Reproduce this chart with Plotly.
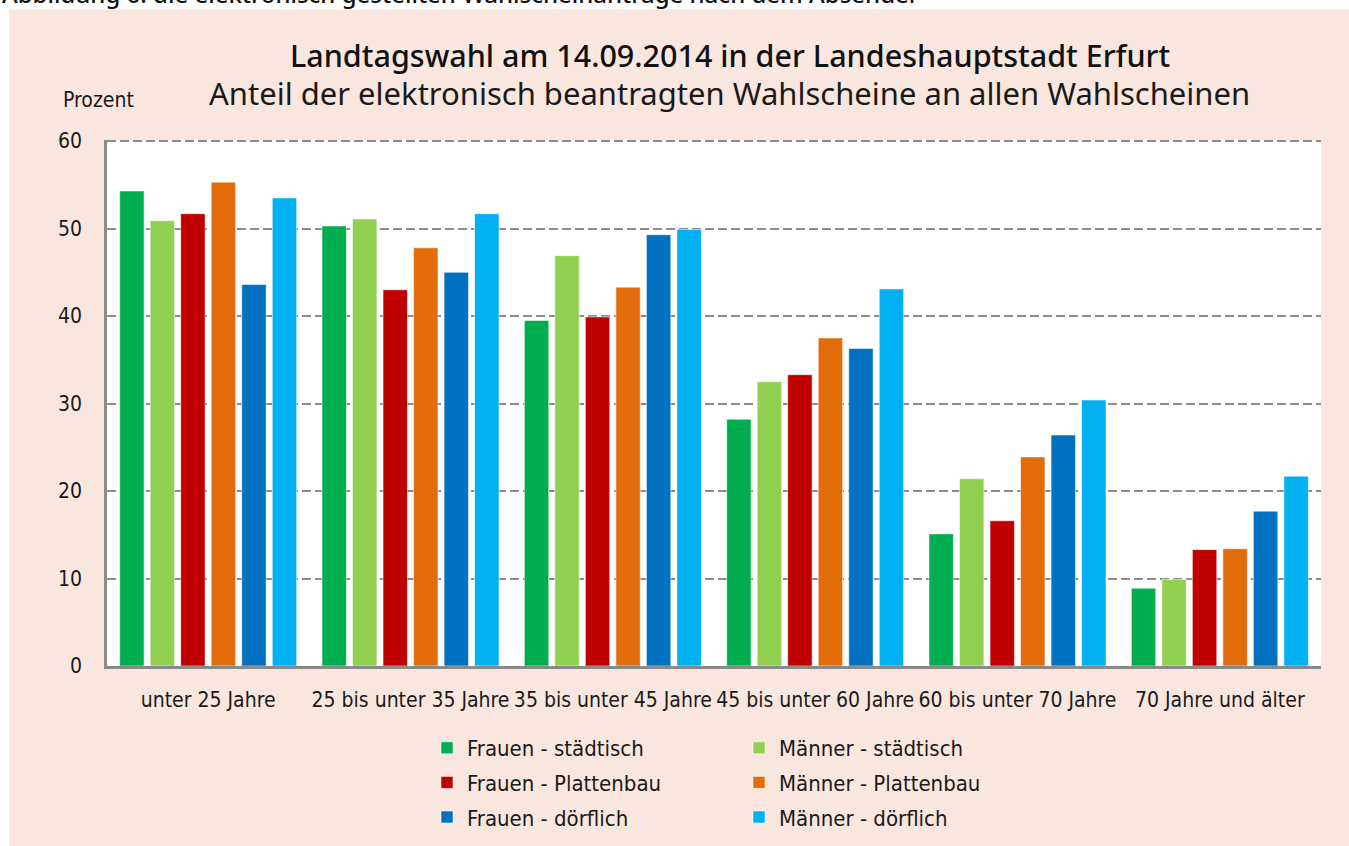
import plotly.graph_objects as go

categories = ["unter 25 Jahre", "25 bis unter 35 Jahre", "35 bis unter 45 Jahre",
              "45 bis unter 60 Jahre", "60 bis unter 70 Jahre", "70 Jahre und älter"]

frauen_staedtisch = [54.3, 50.3, 39.5, 28.2, 15.1, 8.9]
maenner_staedtisch = [50.9, 51.1, 46.9, 32.5, 21.4, 9.9]
frauen_plattenbau = [51.7, 43.0, 39.9, 33.3, 16.6, 13.3]
maenner_plattenbau = [55.3, 47.8, 43.3, 37.5, 23.9, 13.4]
frauen_doerflich = [43.6, 45.0, 49.3, 36.3, 26.4, 17.7]
maenner_doerflich = [53.5, 51.7, 49.9, 43.1, 30.4, 21.7]

series = [
    ("Frauen - städtisch", frauen_staedtisch, "#00AE4F", "legend"),
    ("Männer - städtisch", maenner_staedtisch, "#92D050", "legend2"),
    ("Frauen - Plattenbau", frauen_plattenbau, "#C00000", "legend"),
    ("Männer - Plattenbau", maenner_plattenbau, "#E36C0A", "legend2"),
    ("Frauen - dörflich", frauen_doerflich, "#0070C0", "legend"),
    ("Männer - dörflich", maenner_doerflich, "#00B0F0", "legend2"),
]

W, H = 1349, 846
ML, MR, MT, MB = 107, 28, 140, 180
PW, PH = W - ML - MR, H - MT - MB

def px_x(x):
    return (x - ML) / PW

def px_y(y):
    return (H - MB - y) / PH

PEACH = "#F9E7DF"
COND = "Liberation Sans Narrow, DejaVu Sans Condensed, Roboto, sans-serif"

fig = go.Figure()
for name, vals, color, lg in series:
    fig.add_trace(go.Bar(
        x=categories, y=vals, name=name, legendgroup=name,
        marker=dict(color=color, line=dict(color="rgba(255,255,255,0.55)", width=1)),
        legend=lg,
    ))

fig.update_layout(
    width=W, height=H,
    margin=dict(l=ML, r=MR, t=MT, b=MB, autoexpand=False),
    paper_bgcolor=PEACH,
    plot_bgcolor="white",
    barmode="group",
    bargap=0.095,
    bargroupgap=0.2,
    font=dict(family=COND, color="#1a1a1a", size=20),
    xaxis=dict(
        showline=True, linecolor="#8a8a8a", linewidth=2.5,
        showgrid=False, ticks="", ticklabelstandoff=13,
        tickfont=dict(size=21, family=COND),
    ),
    yaxis=dict(
        range=[0, 60.12], tickvals=[0, 10, 20, 30, 40, 50, 60], showline=True,
        linecolor="#8a8a8a", linewidth=2.5,
        showgrid=True, gridcolor="#8c8c8c", gridwidth=1.8, griddash="9px,4px",
        ticks="", ticklabelstandoff=18, zeroline=False,
        tickfont=dict(size=21, family=COND),
    ),
    legend=dict(
        x=px_x(427), y=px_y(727), xanchor="left", yanchor="top",
        orientation="v", bgcolor="rgba(0,0,0,0)", font=dict(size=22, family=COND),
        tracegroupgap=3, itemwidth=30,
    ),
    legend2=dict(
        x=px_x(739), y=px_y(727), xanchor="left", yanchor="top",
        orientation="v", bgcolor="rgba(0,0,0,0)", font=dict(size=22, family=COND),
        tracegroupgap=3, itemwidth=30,
    ),
    shapes=[
        dict(type="rect", xref="paper", yref="paper", x0=px_x(0), x1=px_x(9),
             y0=px_y(H), y1=px_y(0), fillcolor="white", line=dict(width=0), layer="below"),
        dict(type="rect", xref="paper", yref="paper", x0=px_x(0), x1=px_x(W),
             y0=px_y(9.5), y1=px_y(0), fillcolor="white", line=dict(width=0), layer="below"),
    ],
    annotations=[
        dict(text="Landtagswahl am 14.09.2014 in der Landeshauptstadt Erfurt",
             x=px_x(730), y=px_y(55), xref="paper", yref="paper", showarrow=False,
             xanchor="center", yanchor="middle",
             font=dict(family="Noto Sans, Open Sans, sans-serif", size=30.5, color="#111", weight=500)),
        dict(text="Anteil der elektronisch beantragten Wahlscheine an allen Wahlscheinen",
             x=px_x(729), y=px_y(93), xref="paper", yref="paper", showarrow=False,
             xanchor="center", yanchor="middle",
             font=dict(family="Noto Sans, Open Sans, sans-serif", size=31, color="#1a1a1a")),
        dict(text="Prozent", x=px_x(61), y=px_y(100), xref="paper", yref="paper",
             showarrow=False, xanchor="left", yanchor="middle",
             font=dict(family=COND, size=21, color="#1a1a1a")),
        dict(text="Abbildung 6: die elektronisch gestellten Wahlscheinanträge nach dem Absender",
             x=px_x(0), y=px_y(12), xref="paper", yref="paper", showarrow=False,
             xanchor="left", yanchor="bottom",
             font=dict(family="Noto Sans, Open Sans, sans-serif", size=24, color="#111", weight=500)),
    ],
)

fig.write_html("out.html",
               config={"displayModeBar": False},
               post_script=("document.body.style.margin='0';"
                            "document.body.style.overflow='hidden';"
                            "document.documentElement.style.overflow='hidden';"
                            "document.body.style.background='" + PEACH + "';"
                            "document.documentElement.style.background='" + PEACH + "';"))
